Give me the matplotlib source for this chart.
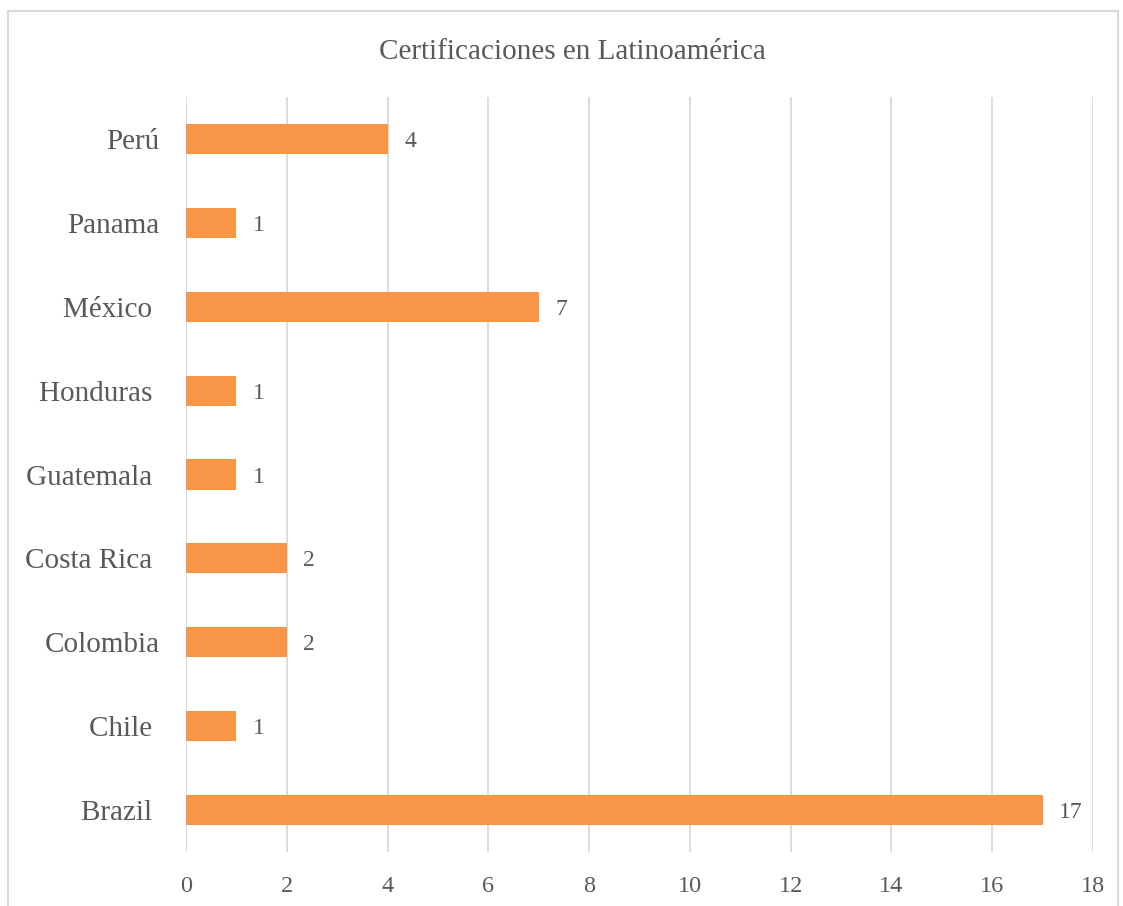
import matplotlib.pyplot as plt
from matplotlib.patches import Rectangle

countries = ["Brazil ", "Chile ", "Colombia", "Costa Rica ", "Guatemala ",
             "Honduras ", "México ", "Panama", "Perú"]
counts = [17, 1, 2, 2, 1, 1, 7, 1, 4]
xticks = [0, 2, 4, 6, 8, 10, 12, 14, 16, 18]

grey = "#595959"
orange = "#F79646"

fig = plt.figure(figsize=(11.23, 9.06), dpi=100)
ax = fig.add_axes([186 / 1123, 1 - 852 / 906, 907 / 1123, 755 / 906])

ypos = range(len(countries))
bars = ax.barh(ypos, counts, height=0.36, color=orange, zorder=3)
for y, v in zip(ypos, counts):
    ax.annotate(str(v), (v, y), xytext=(12, 0), textcoords="offset points",
                va="center_baseline", ha="left", fontsize=17, color=grey,
                family="Liberation Serif")

ax.set_xlim(0, 18)
ax.set_ylim(-0.5, len(countries) - 0.5)
ax.set_xticks(xticks)
ax.set_yticks(list(ypos))
ax.set_yticklabels(countries, fontsize=21, color=grey, family="Liberation Serif")
ax.set_xticklabels([str(t) for t in xticks], fontsize=17.5, color=grey,
                   family="Liberation Serif")
ax.tick_params(axis="y", length=0, pad=19)
ax.tick_params(axis="x", length=0, pad=17)
ax.grid(axis="x", color="#d9d9d9", linewidth=1.3, zorder=0)
for s in ax.spines.values():
    s.set_visible(False)

fig.text(572 / 1123, 1 - 52 / 906, "Certificaciones en Latinoamérica",
         ha="center", va="center", fontsize=21, color=grey,
         family="Liberation Serif")

# chart frame
fig.patches.append(Rectangle((8 / 1123, -0.05), 1110 / 1123, 1.05 - 11 / 906,
                             transform=fig.transFigure, fill=False,
                             edgecolor="#d9d9d9", linewidth=1.5))

fig.savefig("out.png", dpi=100)
